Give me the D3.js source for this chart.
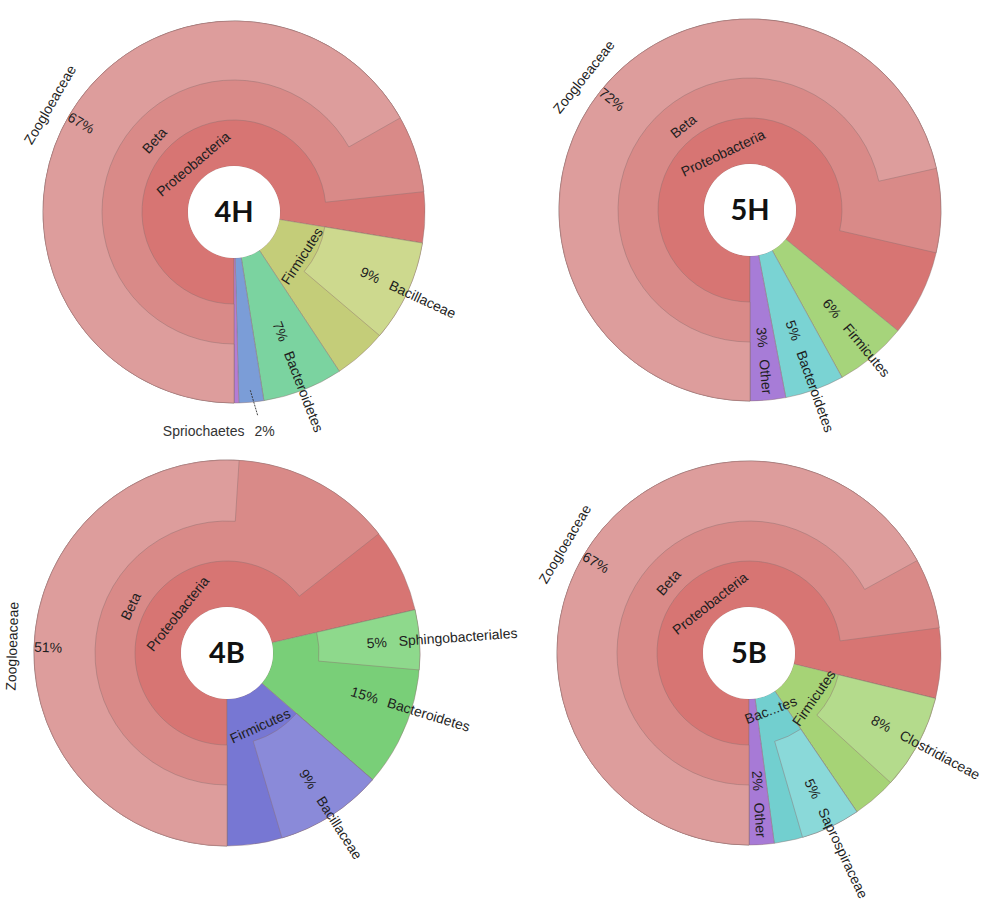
<!DOCTYPE html>
<html><head><meta charset="utf-8">
<script src="https://cdn.jsdelivr.net/npm/d3@7"></script>
<style>body{margin:0;background:#fff} svg{display:block}</style>
</head><body>
<svg id="chart" width="986" height="903"></svg>
<script>
// ---------------- DATA (percent of all reads, node totals) ----------------
const names4H   = ["Proteobacteria","Beta","Zoogloeaceae","Firmicutes","Bacillaceae","Bacteroidetes","Spirochaetes","Other"];
const parents4H = ["","Proteobacteria","Beta","","Firmicutes","","",""];
const values4H  = [77.6, 73.3, 66.8, 13.1, 8.6, 6.8, 2.1, 0.4];
const pct4H     = ["","","67%","","9%","7%","2%",""];
const text4H    = ["Proteobacteria","Beta","Zoogloeaceae","Firmicutes","Bacillaceae","Bacteroidetes","Spriochaetes",""];

const names5H   = ["Proteobacteria","Beta","Zoogloeaceae","Firmicutes","Bacteroidetes","Other"];
const parents5H = ["","Proteobacteria","Beta","","",""];
const values5H  = [85.9, 78.6, 71.5, 6.1, 5.0, 3.0];
const pct5H     = ["","","72%","6%","5%","3%"];
const text5H    = ["Proteobacteria","Beta","Zoogloeaceae","Firmicutes","Bacteroidetes","Other"];

const names4B   = ["Proteobacteria","Beta","Zoogloeaceae","Bacteroidetes","Sphingobacteriales","Firmicutes","Bacillaceae"];
const parents4B = ["","Proteobacteria","Beta","","Bacteroidetes","","Firmicutes"];
const values4B  = [71.4, 64.4, 51.0, 15.0, 5.0, 13.6, 9.0];
const pct4B     = ["","","51%","15%","5%","","9%"];
const text4B    = ["Proteobacteria","Beta","Zoogloeaceae","Bacteroidetes","Sphingobacteriales","Firmicutes","Bacillaceae"];

const names5B   = ["Proteobacteria","Beta","Zoogloeaceae","Firmicutes","Clostridiaceae","Bacteroidetes","Saprospiraceae","Other"];
const parents5B = ["","Proteobacteria","Beta","","Firmicutes","","Bacteroidetes",""];
const values5B  = [78.8, 72.9, 67.0, 11.7, 8.0, 7.4, 5.0, 2.1];
const pct5B     = ["","","67%","","8%","","5%","2%"];
const text5B    = ["Proteobacteria","Beta","Zoogloeaceae","Firmicutes","Clostridiaceae","Bac...tes","Saprospiraceae","Other"];

const chartTitles = ["4H","5H","4B","5B"];

// ---------------- PRESENTATION ----------------
const red = {Proteobacteria:"#d77573", Beta:"#d98a88", Zoogloeaceae:"#dd9d9c"};
const charts = [
  {title:"4H", names:names4H, parents:parents4H, values:values4H, pct:pct4H, text:text4H,
   cx:234, cy:212, R:191,
   colors:Object.assign({}, red, {Firmicutes:"#c4cd79", Bacillaceae:"#cdd98e", Bacteroidetes:"#7bd3a0", Spirochaetes:"#7b9dd7", Other:"#b47cd5"}),
   labels:{Proteobacteria:{mode:"tan",r:63}, Beta:{mode:"tan",r:107}, Zoogloeaceae:{mode:"outer"},
           Firmicutes:{mode:"tan",r:81}, Bacillaceae:{mode:"radial"}, Bacteroidetes:{mode:"radial"},
           Spirochaetes:{mode:"callout"}}},
  {title:"5H", names:names5H, parents:parents5H, values:values5H, pct:pct5H, text:text5H,
   cx:750, cy:210, R:191,
   colors:Object.assign({}, red, {Firmicutes:"#a6d47b", Bacteroidetes:"#7ad3d3", Other:"#a77cd7"}),
   labels:{Proteobacteria:{mode:"tan",r:63}, Beta:{mode:"tan",r:107}, Zoogloeaceae:{mode:"outer"},
           Firmicutes:{mode:"radial"}, Bacteroidetes:{mode:"radial"}, Other:{mode:"radial"}}},
  {title:"4B", names:names4B, parents:parents4B, values:values4B, pct:pct4B, text:text4B,
   cx:227, cy:653, R:193,
   colors:Object.assign({}, red, {Bacteroidetes:"#79cf78", Sphingobacteriales:"#8ed98c", Firmicutes:"#7777d3", Bacillaceae:"#8a8ad9"}),
   labels:{Proteobacteria:{mode:"tan",r:63}, Beta:{mode:"tan",r:107}, Zoogloeaceae:{mode:"outer"},
           Bacteroidetes:{mode:"radial",angle:107,pr:144,nr:168}, Sphingobacteriales:{mode:"radial"},
           Firmicutes:{mode:"tan",r:80}, Bacillaceae:{mode:"radial"}}},
  {title:"5B", names:names5B, parents:parents5B, values:values5B, pct:pct5B, text:text5B,
   cx:749, cy:653, R:192,
   colors:Object.assign({}, red, {Firmicutes:"#a6d376", Clostridiaceae:"#b4db8c", Bacteroidetes:"#72cfcf", Saprospiraceae:"#8ad9d9", Other:"#a77ad6"}),
   labels:{Proteobacteria:{mode:"tan",r:63}, Beta:{mode:"tan",r:107}, Zoogloeaceae:{mode:"outer"},
           Firmicutes:{mode:"tan",r:79}, Clostridiaceae:{mode:"radial"}, Bacteroidetes:{mode:"tan",r:61},
           Saprospiraceae:{mode:"radial"}, Other:{mode:"radial"}}}
];

const FONT = "'Liberation Sans', Arial, Helvetica, sans-serif";
const svg = d3.select("#chart");
const deg = a => a * 180 / Math.PI;

function norm(d) { while (d > 180) d -= 360; while (d <= -180) d += 360; return d; }
function tanRot(d) { d = norm(d); if (d > 90) d -= 180; if (d < -90) d += 180; return d; }
function radRot(d) { d = norm(d - 90); if (d > 90) d -= 180; if (d < -90) d += 180; return d; }

charts.forEach(c => {
  const rows = [{id:"root", parent:null, total:100}].concat(
    c.names.map((n, i) => ({id:n, parent:c.parents[i] || "root", total:c.values[i], idx:i})));
  rows.forEach(r => {
    const kids = rows.filter(k => k.parent === r.id);
    r.self = r.id === "root" ? 0 : Math.max(0, r.total - d3.sum(kids, k => k.total));
  });
  const root = d3.stratify().id(d => d.id).parentId(d => d.parent)(rows).sum(d => d.self);
  d3.partition().size([2 * Math.PI, root.height + 1])(root);

  const rScale = d3.scaleLinear().domain([1, 2, 3]).range([46, 92, 132]);
  const ang = a => Math.PI + a; // start at 6 o'clock, clockwise
  const arc = d3.arc()
    .innerRadius(d => rScale(d.depth)).outerRadius(c.R)
    .startAngle(d => ang(d.x0)).endAngle(d => ang(d.x1));

  const g = svg.append("g").attr("transform", `translate(${c.cx},${c.cy})`);
  const nodes = root.descendants().filter(d => d.depth > 0);

  g.selectAll("path.seg").data(nodes).join("path")
    .attr("class", "seg")
    .attr("d", arc)
    .attr("fill", d => c.colors[d.id])
    .attr("stroke", "#8c6f6f").attr("stroke-opacity", 0.55).attr("stroke-width", 0.8);

  // centre
  g.append("circle").attr("r", 46).attr("fill", "#fff");
  g.append("text").text(c.title)
    .attr("text-anchor", "middle").attr("dy", "0.36em")
    .attr("font-family", "Lato, 'Open Sans', sans-serif").attr("font-weight", 700)
    .attr("font-size", 29).attr("fill", "#111");

  const pt = (r, a) => [r * Math.sin(a), -r * Math.cos(a)];
  const lab = g.append("g").attr("font-family", FONT).attr("font-size", 14).attr("fill", "#1e1e1e");

  nodes.forEach(d => {
    const L = c.labels[d.id]; if (!L) return;
    const i = d.data.idx;
    const mid = L.angle !== undefined ? L.angle * Math.PI / 180 : ang((d.x0 + d.x1) / 2);
    const md = deg(mid);
    if (L.mode === "tan") {
      const [x, y] = pt(L.r, mid);
      lab.append("text").text(c.text[i]).attr("text-anchor", "middle").attr("dy", "0.35em")
        .attr("transform", `translate(${x},${y}) rotate(${tanRot(md)})`);
    } else if (L.mode === "radial") {
      const leaf = !d.children;
      const pr = L.pr || (d.depth === 1 && leaf ? 128 : 150);
      const nr = L.nr || pr + 22;
      const rot = radRot(md);
      const [px, py] = pt(pr, mid);
      lab.append("text").text(c.pct[i]).attr("text-anchor", "middle").attr("dy", "0.35em")
        .attr("transform", `translate(${px},${py}) rotate(${rot})`);
      const [nx, ny] = pt(nr, mid);
      lab.append("text").text(c.text[i]).attr("text-anchor", "start").attr("dy", "0.35em")
        .attr("transform", `translate(${nx},${ny}) rotate(${rot})`);
    } else if (L.mode === "outer") {
      const [px, py] = pt(c.R - 14, mid);
      lab.append("text").text(c.pct[i]).attr("text-anchor", "middle").attr("dy", "0.35em")
        .attr("transform", `translate(${px},${py}) rotate(${radRot(md)})`);
      const [nx, ny] = pt(c.R + 22, mid);
      lab.append("text").text(c.text[i]).attr("text-anchor", "middle").attr("dy", "0.35em")
        .attr("transform", `translate(${nx},${ny}) rotate(${tanRot(md)})`);
    } else if (L.mode === "callout") {
      const [x1, y1] = pt(c.R - 12, mid);
      const [x2, y2] = pt(c.R + 14, mid - 0.025);
      lab.append("line").attr("x1", x1).attr("y1", y1).attr("x2", x2).attr("y2", y2)
        .attr("stroke", "#333").attr("stroke-width", 0.9).attr("stroke-dasharray", "2,1");
      const t = lab.append("text").attr("text-anchor", "end")
        .attr("x", x2 + 17).attr("y", y2 + 20).attr("fill", "#333");
      t.append("tspan").text(c.text[i]);
      t.append("tspan").attr("dx", 10).text(c.pct[i]);
    }
  });
});
</script>
</body></html>
